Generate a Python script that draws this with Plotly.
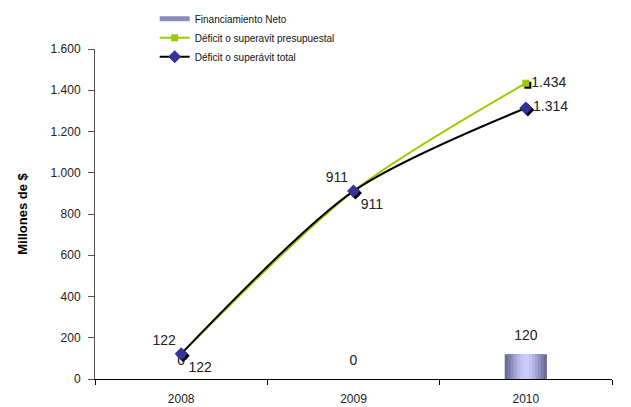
import plotly.graph_objects as go

years = ["2008", "2009", "2010"]
financiamiento = [0, 0, 120]
presupuestal = [122, 911, 1434]
total = [122, 911, 1314]
y_ticks = [0, 200, 400, 600, 800, 1000, 1200, 1400, 1600]

W, H = 631, 407
ML, MR, MT, MB = 95, 17, 49, 26
PW, PH = W - ML - MR, H - MT - MB
SH = 2  # drop-shadow offset of the markers, px

fig = go.Figure()

# Marker drop shadows live on a hidden subplot nudged down/right; drawn first, so underneath
fig.add_trace(go.Scatter(
    x=years, y=presupuestal, mode="markers", xaxis="x", yaxis="y",
    marker=dict(symbol="square", size=7, color="#000000"),
    showlegend=False, hoverinfo="skip", cliponaxis=False,
))
fig.add_trace(go.Scatter(
    x=years, y=total, mode="markers", xaxis="x", yaxis="y",
    marker=dict(symbol="diamond", size=10, color="#000000"),
    showlegend=False, hoverinfo="skip", cliponaxis=False,
))

# Bar drawn as overlaid layers of narrowing width to give a cylinder-like shading
shades = ["#6b6b94", "#7d7daa", "#9090c0", "#a3a3d4", "#b4b4e6", "#c2c2f4", "#cacafc"]
widths = [0.245, 0.21, 0.175, 0.14, 0.105, 0.07, 0.035]
for c, w in zip(shades, widths):
    fig.add_trace(go.Bar(
        x=years, y=financiamiento, width=w, xaxis="x2", yaxis="y2",
        marker=dict(color=c, line=dict(width=0)),
        name="Financiamiento Neto", showlegend=False,
        cliponaxis=False, hoverinfo="skip",
    ))

# Legend key for the bars: a flat wide swatch
fig.add_trace(go.Scatter(
    x=[None], y=[None], mode="lines", xaxis="x2", yaxis="y2",
    name="Financiamiento Neto", legendrank=1,
    line=dict(color="#8c8cba", width=5),
))

# Bar value labels, lifted clear of the bar tops by an invisible marker
fig.add_trace(go.Scatter(
    x=years, y=financiamiento, mode="markers+text", xaxis="x2", yaxis="y2",
    marker=dict(size=15, opacity=0),
    text=[f"{v}" for v in financiamiento], textposition="top center",
    textfont=dict(size=14, color="#222222"),
    showlegend=False, hoverinfo="skip", cliponaxis=False,
))

fig.add_trace(go.Scatter(
    x=years, y=presupuestal, mode="lines+markers+text", xaxis="x2", yaxis="y2",
    name="Déficit o superavit presupuestal", legendrank=2,
    line=dict(color="#99cc00", width=2, shape="spline", smoothing=0.8),
    marker=dict(symbol="square", size=7, color="#99cc00"),
    texttemplate="%{y:,}", textposition=["top left", "top left", "middle right"],
    textfont=dict(size=14, color="#222222"), cliponaxis=False,
))

fig.add_trace(go.Scatter(
    x=years, y=total, mode="lines+markers+text", xaxis="x2", yaxis="y2",
    name="Déficit o superávit total", legendrank=3,
    line=dict(color="#000000", width=2, shape="spline", smoothing=0.8),
    marker=dict(symbol="diamond", size=10, color="#333399"),
    texttemplate="%{y:,}", textposition=["bottom right", "bottom right", "middle right"],
    textfont=dict(size=14, color="#222222"), cliponaxis=False,
))

fig.update_layout(
    width=W, height=H,
    margin=dict(l=ML, r=MR, t=MT, b=MB, autoexpand=False),
    paper_bgcolor="white", plot_bgcolor="rgba(0,0,0,0)",
    font=dict(family="Liberation Sans, Arial, sans-serif", color="#222222"),
    separators=",.",
    barmode="overlay",
    legend=dict(
        x=0.115, y=1.135, xanchor="left", yanchor="top",
        font=dict(size=10, color="#111111"),
        bgcolor="rgba(0,0,0,0)", tracegroupgap=0, itemwidth=30,
    ),
    showlegend=True,
    # hidden shadow subplot
    xaxis=dict(type="category", range=[-0.5, 2.5], domain=[SH / PW, 1], anchor="y",
               visible=False, showgrid=False, zeroline=False),
    yaxis=dict(range=[0, 1600], domain=[0, 1 - SH / PH], anchor="x",
               visible=False, showgrid=False, zeroline=False),
    # visible subplot
    xaxis2=dict(
        type="category", range=[-0.5, 2.5], domain=[0, 1 - SH / PW], anchor="y2",
        showline=True, linecolor="#000000", linewidth=1,
        ticks="outside", tickson="boundaries", ticklen=5, tickcolor="#000000",
        ticklabelstandoff=9,
        tickfont=dict(size=12, color="#222222"),
        showgrid=False, zeroline=False,
    ),
    yaxis2=dict(
        range=[0, 1600], domain=[SH / PH, 1], anchor="x2",
        tickvals=y_ticks, tickformat=",",
        showline=True, linecolor="#555555", linewidth=1,
        ticks="outside", ticklen=6, tickcolor="#555555",
        ticklabelstandoff=5,
        tickfont=dict(size=12, color="#222222"),
        showgrid=False, zeroline=False,
        title=dict(text="<b>Millones de $</b>", font=dict(size=13, color="#000000"), standoff=20),
    ),
)

fig.write_html("out.html")
